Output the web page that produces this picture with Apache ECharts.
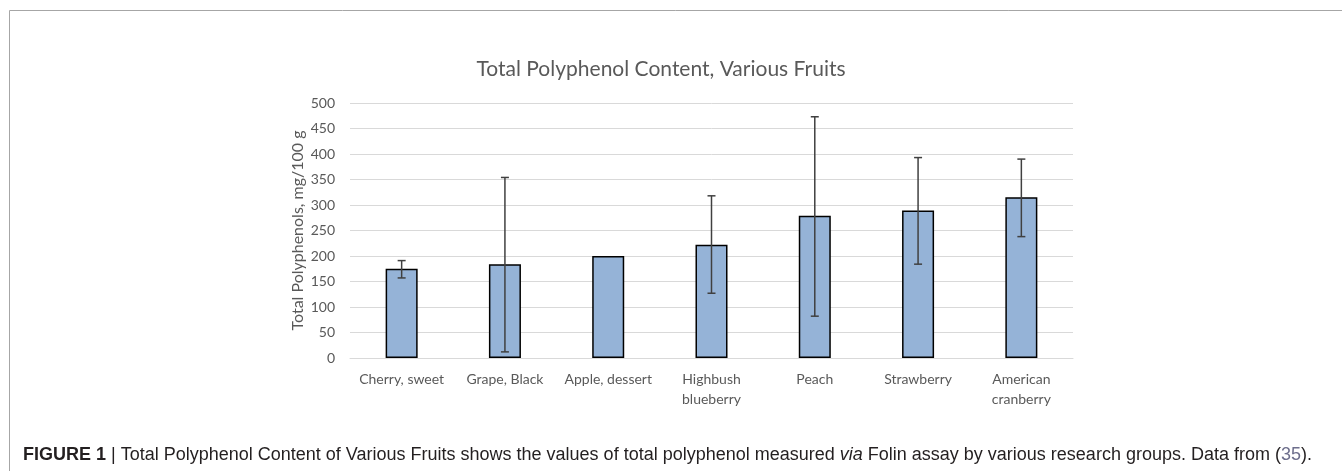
<!DOCTYPE html>
<html>
<head>
<meta charset="utf-8">
<title>Total Polyphenol Content, Various Fruits</title>
<script src="https://cdn.jsdelivr.net/npm/echarts@6/dist/echarts.min.js"></script>
<style>
  html, body { margin: 0; padding: 0; background: #fff; }
  #chart { width: 1342px; height: 471px; }
</style>
</head>
<body>
<div id="chart"></div>
<script>
// data
const fruits = ['Cherry, sweet', 'Grape, Black', 'Apple, dessert', 'Highbush\nblueberry', 'Peach', 'Strawberry', 'American\ncranberry'];
const polyphenols = [175, 184, 200, 222, 279, 289, 315];
const errLow = [157, 12, 200, 127, 82, 184, 238];
const errHigh = [191, 354, 200, 318, 473, 393, 390];
const yTicks = { min: 0, max: 500, step: 50 };

const textGray = '#595959';
const chartFont = 'Lato, "Open Sans", sans-serif';
const captionFont = '"Liberation Sans", Arial, sans-serif';

var chart = echarts.init(document.getElementById('chart'));

// error bars as [index, low, high]
const errData = fruits.map(function (f, i) {
  return [i, errLow[i], errHigh[i]];
});

var option = {
  backgroundColor: '#fff',
  animation: false,
  title: {
    text: 'Total Polyphenol Content, Various Fruits',
    left: 656,
    top: 54,
    textAlign: 'center',
    textStyle: {
      color: textGray,
      fontFamily: chartFont,
      fontWeight: 'normal',
      fontSize: 21,
    },
  },
  grid: {
    left: 350,
    right: 269,
    top: 103,
    bottom: 113,
  },
  xAxis: {
    type: 'category',
    data: fruits,
    axisLine: { lineStyle: { color: '#d9d9d9', width: 1 } },
    axisTick: { show: false },
    axisLabel: {
      interval: 0,
      margin: 11,
      color: textGray,
      fontFamily: chartFont,
      fontSize: 14,
      lineHeight: 20,
    },
  },
  yAxis: {
    type: 'value',
    min: yTicks.min,
    max: yTicks.max,
    interval: yTicks.step,
    name: 'Total Polyphenols, mg/100 g',
    nameLocation: 'middle',
    nameGap: 44,
    nameMoveOverlap: false,
    nameTextStyle: {
      color: textGray,
      fontFamily: chartFont,
      fontSize: 16,
    },
    axisLine: { show: false },
    axisTick: { show: false },
    axisLabel: {
      margin: 15,
      color: textGray,
      fontFamily: chartFont,
      fontSize: 14,
    },
    splitLine: { lineStyle: { color: '#d9d9d9', width: 1 } },
  },
  series: [
    {
      name: 'Total polyphenols',
      type: 'bar',
      data: polyphenols,
      barWidth: '31%',
      itemStyle: {
        color: '#95b3d7',
        borderColor: '#000',
        borderWidth: 1.5,
      },
    },
    {
      name: 'Range',
      type: 'custom',
      data: errData,
      z: 10,
      renderItem: function (params, api) {
        var x = api.value(0);
        var lo = api.coord([x, api.value(1)]);
        var hi = api.coord([x, api.value(2)]);
        if (Math.abs(lo[1] - hi[1]) < 1) return null;
        var cap = 4;
        var style = { stroke: '#404040', lineWidth: 1.5 };
        return {
          type: 'group',
          children: [
            { type: 'line', shape: { x1: hi[0], y1: hi[1], x2: lo[0], y2: lo[1] }, style: style },
            { type: 'line', shape: { x1: hi[0] - cap, y1: hi[1], x2: hi[0] + cap, y2: hi[1] }, style: style },
            { type: 'line', shape: { x1: lo[0] - cap, y1: lo[1], x2: lo[0] + cap, y2: lo[1] }, style: style },
          ],
        };
      },
    },
  ],
  graphic: [
    // figure frame (top and left edges)
    {
      type: 'polyline',
      shape: { points: [[9.5, 471], [9.5, 10.5], [1342, 10.5]] },
      style: { stroke: '#a6a6a6', lineWidth: 1, fill: null },
      silent: true,
    },
    {
      type: 'text',
      left: 23,
      top: 446,
      style: {
        text: '{b|FIGURE 1} | Total Polyphenol Content of Various Fruits shows the values of total polyphenol measured {i|via} Folin assay by various research groups. Data from ({r|35}).',
        fill: '#231f20',
        fontFamily: captionFont,
        fontSize: 18,
        rich: {
          b: { fontWeight: 'bold', fill: '#231f20', fontFamily: captionFont, fontSize: 18 },
          i: { fontStyle: 'italic', fill: '#231f20', fontFamily: captionFont, fontSize: 18 },
          r: { fill: '#6d6e8c', fontFamily: captionFont, fontSize: 18 },
        },
      },
    },
  ],
};

chart.setOption(option);
</script>
</body>
</html>
